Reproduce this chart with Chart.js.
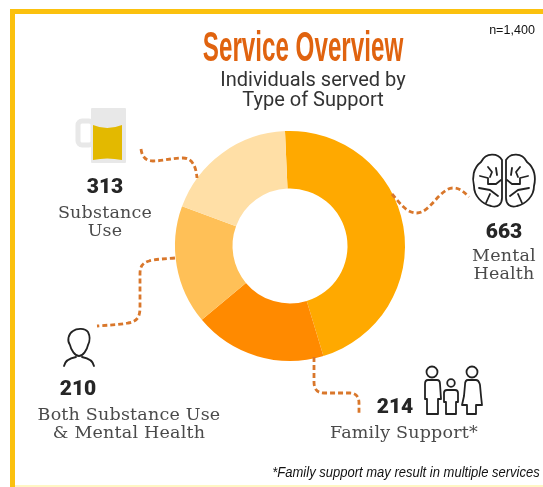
<!DOCTYPE html>
<html>
<head>
<meta charset="utf-8">
<title>Service Overview</title>
<script src="https://cdn.jsdelivr.net/npm/chart.js@4"></script>
<style>
  html, body { margin: 0; padding: 0; background: #fff; }
  #page { position: relative; width: 543px; height: 487px; overflow: hidden; background: #fff; }
  #frame-top { position: absolute; left: 10px; top: 9px; right: 0; height: 5px; background: #fbc10e; }
  #frame-left { position: absolute; left: 10px; top: 9px; bottom: 0; width: 5px; background: #fbc10e; }
  #frame-bottom { position: absolute; left: 15px; right: 0; top: 485px; height: 2px; background: #fff6c4; }
  canvas { position: absolute; left: 0; top: 0; }
  svg { position: absolute; left: 0; top: 0; }
  .txt { position: absolute; transform: translate(-50%, -50%); white-space: pre; text-align: center; }
  .count { font: 900 21px Roboto, sans-serif; color: #262626; }
  .cat { font: 17.5px/18px "DejaVu Serif", serif; color: #4a4a4a; letter-spacing: 0.2px; }
  .leader { fill: none; stroke: #d9772b; stroke-width: 2.8; stroke-dasharray: 5 3; }
  .outline { fill: none; stroke: #222; stroke-width: 1.8; stroke-linejoin: round; stroke-linecap: round; }
</style>
</head>
<body>
<div id="page">
  <div id="frame-top"></div>
  <div id="frame-left"></div>
  <div id="frame-bottom"></div>
  <canvas id="service-chart" width="543" height="487"></canvas>

  <svg width="543" height="487" viewBox="0 0 543 487">
    <!-- dotted leaders -->
    <path class="leader" d="M141 149 C142 157 146 161 153 161 C163 161 172 158 183 158 C192 158 196 166 197 178"/>
    <path class="leader" d="M392 194 C400 203 406 213 417 213 C430 213 440 188 453 188 C460 188 464 192 469 197"/>
    <path class="leader" d="M175 258 C165 259 155 259 149 261 C142 263 140 267 140 274 L140 308 C140 318 136 322 128 323 C118 325 108 325 97 326"/>
    <path class="leader" d="M314 357 L314 382 C314 389 317 393 324 393 L350 393 C356 393 359 397 359 403 L359 414"/>

    <!-- mug -->
    <rect x="78" y="121" width="15" height="24" rx="4" fill="none" stroke="#e8e8e8" stroke-width="5"/>
    <rect x="91" y="108" width="35" height="55" rx="1" fill="#e8e8e8"/>
    <path d="M93 125 Q107 131 122 125 L122 160 Q107 157 93 160 Z" fill="#e3b900"/>

    <!-- brain -->
    <g class="outline">
      <path d="M502 160 C498 153 486 152 481 162 C473 168 472 178 474 186 C474 196 482 204 491 206 C498 208 502 204 502 198 Z"/>
      <path d="M506 160 C510 153 522 152 527 162 C535 168 536 178 534 186 C534 196 526 204 517 206 C510 208 506 204 506 198 Z"/>
      <path d="M488 167 L492 172 L490 177 M496 168 L497 175 M480 176 L488 178 L488 184 L496 184 L501 180 M479 188 L490 190 L498 196 M486 203 L490 194"/>
      <path d="M520 167 L516 172 L518 177 M512 168 L511 175 M528 176 L520 178 L520 184 L512 184 L507 180 M529 188 L518 190 L510 196 M522 203 L518 194"/>
    </g>

    <!-- person -->
    <g class="outline">
      <path d="M73 331 C77 328 85 328 88 332 C90 336 90 341 88 345 C87 350 83 356 79 356 C75 356 71 350 70 345 C67 341 68 334 73 331 Z"/>
      <path d="M64 366 C65 360 71 358 76 357 M94 366 C93 360 87 358 82 357"/>
    </g>

    <!-- family -->
    <g class="outline">
      <circle cx="432" cy="372" r="5.5"/>
      <path d="M428 380 L437 380 C439 380 440 382 440 384 L441 399 L438 399 L438 414 L427 414 L427 399 L425 399 L425 384 C425 382 426 380 428 380 Z"/>
      <circle cx="451" cy="383" r="3.8"/>
      <path d="M447 390 L455 390 C457 390 458 391 458 393 L458 402 L456 402 L456 414 L446 414 L446 402 L444 402 L444 393 C444 391 445 390 447 390 Z"/>
      <circle cx="472" cy="372" r="5.5"/>
      <path d="M468 380 L476 380 C479 380 479 382 480 385 L481 396 L482 405 L476 405 L476 414 L467 414 L467 405 L462 405 L464 396 L465 385 C465 382 466 380 468 380 Z"/>
    </g>
  </svg>

  <div class="txt" id="chart-title" style="left:303px;top:47px;font:bold 42px 'Liberation Sans',sans-serif;color:#e0630f;transform:translate(-50%,-50%) scaleX(0.576);"></div>
  <div class="txt" id="chart-subtitle" style="left:313px;top:89px;font:20px/20px Roboto,sans-serif;color:#333;"></div>
  <div class="txt" id="sample-size" style="left:512px;top:29px;font:13.5px 'Liberation Sans',sans-serif;color:#111;transform:translate(-50%,-50%) scaleX(0.93);"></div>
  <div class="txt" id="footnote" style="left:406px;top:471px;font:italic 15px 'Liberation Sans',sans-serif;color:#111;transform:translate(-50%,-50%) scaleX(0.867);"></div>

  <div class="txt count" id="count-0" style="left:504px;top:231px;"></div>
  <div class="txt cat" id="cat-0" style="left:504px;top:264px;"></div>
  <div class="txt count" id="count-1" style="left:395px;top:406px;"></div>
  <div class="txt cat" id="cat-1" style="left:404px;top:432px;"></div>
  <div class="txt count" id="count-2" style="left:78px;top:388px;"></div>
  <div class="txt cat" id="cat-2" style="left:129px;top:423px;"></div>
  <div class="txt count" id="count-3" style="left:105px;top:186px;"></div>
  <div class="txt cat" id="cat-3" style="left:105px;top:221px;"></div>
</div>

<script>
const categories = ['Mental\nHealth', 'Family Support*', 'Both Substance Use\n& Mental Health', 'Substance\nUse'];
const serviceCounts = [663, 214, 210, 313];
// slice sizes as drawn in the picture, they do not follow the printed counts exactly
const sliceShares = [46, 18.6, 16.7, 18.7];
const sliceColors = ['#ffa900', '#ff8a00', '#ffc057', '#ffdfa6'];

const titleText = 'Service Overview';
const subtitleText = 'Individuals served by\nType of Support';
const sampleText = 'n=1,400';
const footnoteText = '*Family support may result in multiple services';

function setText(id, text) {
  document.getElementById(id).textContent = text;
}

setText('chart-title', titleText);
setText('chart-subtitle', subtitleText);
setText('sample-size', sampleText);
setText('footnote', footnoteText);
categories.forEach((name, i) => {
  setText(`cat-${i}`, name);
  setText(`count-${i}`, serviceCounts[i]);
});

new Chart(document.getElementById('service-chart'), {
  type: 'doughnut',
  data: {
    labels: categories.map(name => name.replace('\n', ' ')),
    datasets: [
      {
        data: sliceShares,
        backgroundColor: sliceColors,
        borderWidth: 0
      }
    ]
  },
  options: {
    responsive: false,
    animation: false,
    rotation: -2.5,
    cutout: '50%',
    layout: {
      padding: { left: 175, right: 138, top: 131, bottom: 126 }
    },
    plugins: {
      legend: { display: false },
      tooltip: { enabled: false }
    }
  }
});
</script>
</body>
</html>
